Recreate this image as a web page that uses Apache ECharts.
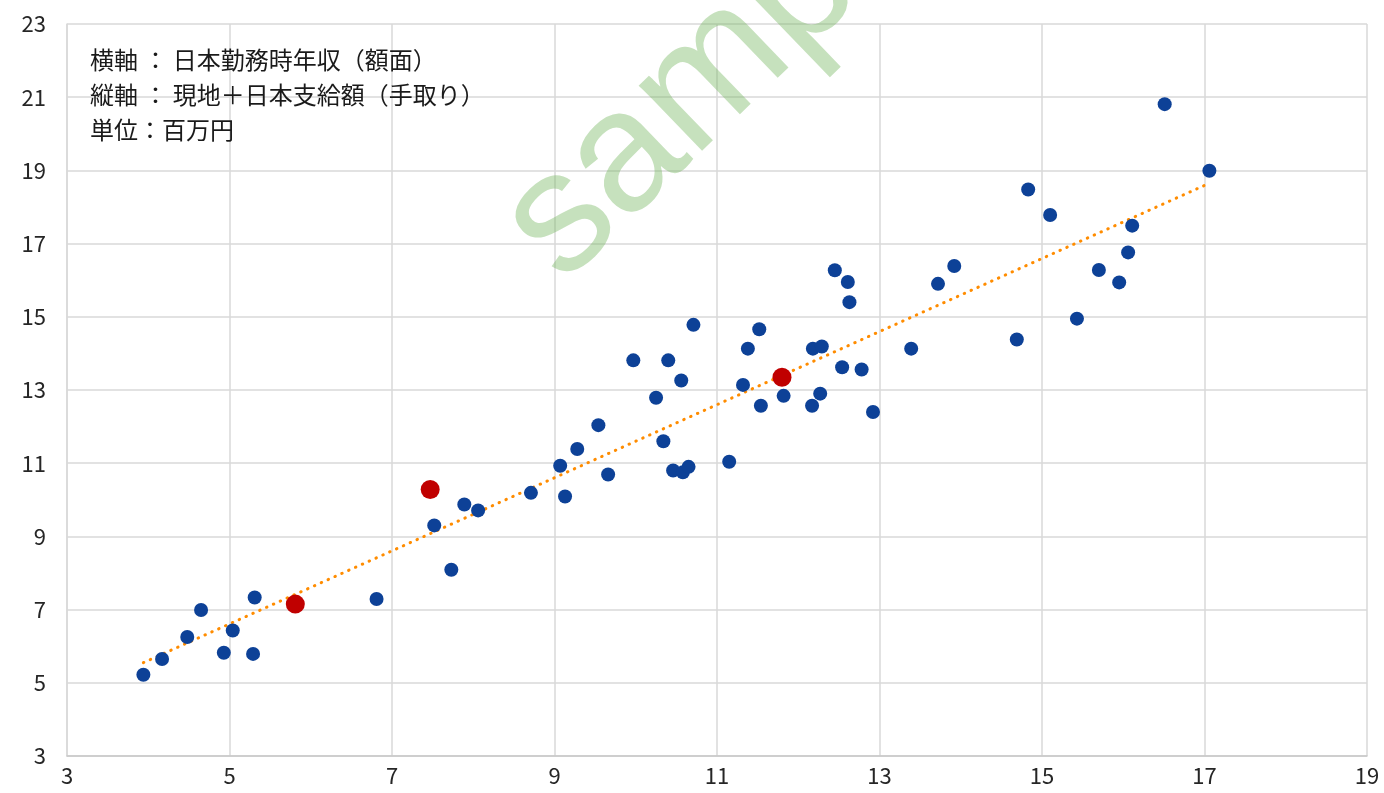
<!DOCTYPE html>
<html><head><meta charset="utf-8">
<script src="https://cdn.jsdelivr.net/npm/echarts@6/dist/echarts.min.js"></script>
<style>html,body{margin:0;padding:0;background:#fff}#c{width:1384px;height:793px}</style>
</head><body><div id="c"></div>
<script>
// Blue points: x = 日本勤務時年収(額面), y = 現地+日本支給額(手取り)
const blueX = [3.94,4.17,4.48,4.65,5.04,4.93,5.29,5.31,6.81,7.52,7.73,7.89,8.06,8.71,9.07,9.13,9.28,9.54,9.66,9.97,10.25,10.34,10.40,10.46,10.56,10.58,10.65,10.71,11.15,11.32,11.38,11.52,11.54,11.82,12.17,12.18,12.29,12.27,12.45,12.54,12.78,12.61,12.63,12.92,13.39,13.72,13.92,14.69,14.83,15.10,15.43,15.70,15.95,16.06,16.11,16.51,17.06];
const blueY = [5.22,5.65,6.25,6.99,6.43,5.82,5.79,7.33,7.29,9.30,8.09,9.87,9.71,10.19,10.93,10.09,11.39,12.04,10.69,13.81,12.79,11.60,13.81,10.80,13.26,10.75,10.90,14.78,11.04,13.14,14.13,14.66,12.57,12.84,12.57,14.13,14.19,12.90,16.27,13.62,13.56,15.95,15.40,12.40,14.13,15.90,16.39,14.38,18.48,17.78,14.95,16.28,15.94,16.76,17.49,20.81,18.99];
// Red (highlighted) points
const redX = [5.81,7.47,11.80];
const redY = [7.15,10.28,13.35];
// Trendline endpoints
const trendX = [3.94,17.06];
const trendY = [5.55,18.65];
// Axis ranges / tick labels
const xTicks = [3,5,7,9,11,13,15,17,19];
const yTicks = [3,5,7,9,11,13,15,17,19,21,23];
const noteLines = ['横軸 ： 日本勤務時年収（額面）','縦軸 ： 現地＋日本支給額（手取り）','単位：百万円'];

const zip = (a,b)=>a.map((v,i)=>[v,b[i]]);
const chart = echarts.init(document.getElementById('c'));
const gridLine = {show:true, lineStyle:{color:'#d9d9d9', width:1.5}};
chart.setOption({
  animation:false,
  grid:{left:67, right:17, top:24, bottom:37, containLabel:false},
  xAxis:{type:'value', min:xTicks[0], max:xTicks[xTicks.length-1], interval:2,
    axisLine:{show:true, lineStyle:{color:'#c8c8c8', width:1.5}}, axisTick:{show:false},
    splitLine:gridLine,
    axisLabel:{color:'#262626', fontSize:22, margin:9, fontFamily:'Noto Sans CJK JP'}},
  yAxis:{type:'value', min:yTicks[0], max:yTicks[yTicks.length-1], interval:2,
    axisLine:{show:true, lineStyle:{color:'#d9d9d9', width:1.5}}, axisTick:{show:false},
    splitLine:gridLine,
    axisLabel:{color:'#262626', fontSize:22, margin:21, fontFamily:'Noto Sans CJK JP'}},
  series:[
    {type:'line', data:zip(trendX,trendY), symbol:'none', silent:true, z:3,
      lineStyle:{color:'#ff8c00', width:3, type:[0.5,7], cap:'round'}},
    {type:'scatter', data:zip(blueX,blueY), symbolSize:14, z:4,
      itemStyle:{color:'#0d4197', opacity:1}},
    {type:'scatter', data:zip(redX,redY), symbolSize:19, z:5,
      itemStyle:{color:'#c00000', opacity:1}}
  ],
  graphic:[
    {type:'text', left:90, top:42, z:10,
      style:{text:noteLines.join('\n'), font:'24px "Noto Sans CJK JP"', lineHeight:35, fill:'#1a1a1a'}},
    {type:'text', x:530, y:251, rotation:0.768, z:20, silent:true,
      style:{text:'sample', font:'172px "Liberation Sans"', fill:'rgba(112,180,90,0.4)', align:'left', verticalAlign:'middle'}}
  ]
});
</script></body></html>
